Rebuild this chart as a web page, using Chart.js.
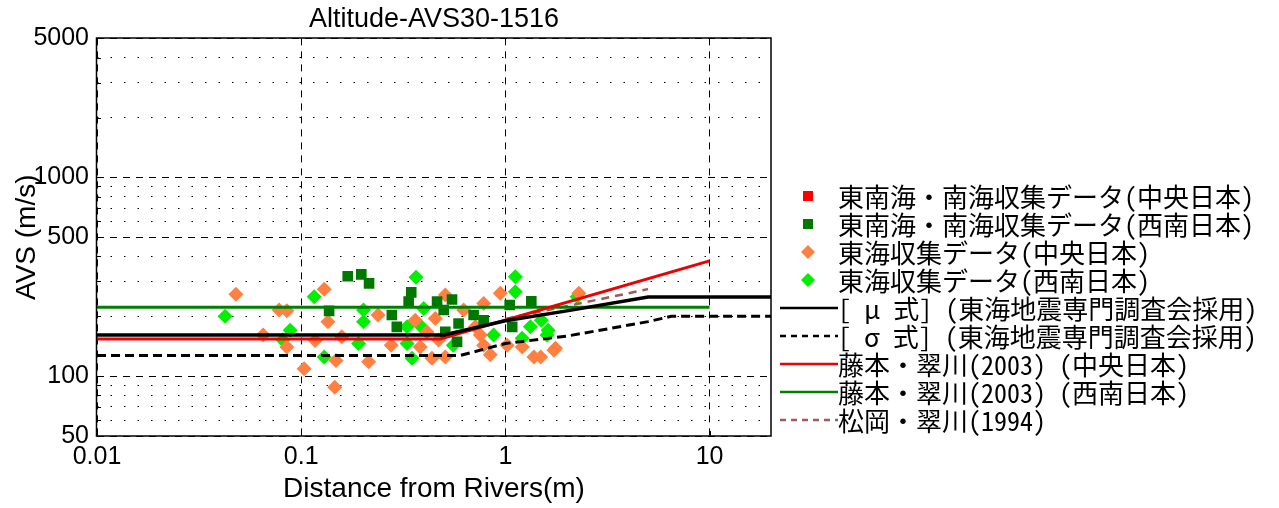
<!DOCTYPE html>
<html>
<head>
<meta charset="utf-8">
<script src="https://cdn.jsdelivr.net/npm/chart.js@4.4.1/dist/chart.umd.min.js"></script>
<style>
  html, body { margin: 0; padding: 0; background: #fff; }
  #wrap { width: 1279px; height: 508px; }
</style>
</head>
<body>
<div id="wrap"><canvas id="chart" width="1279" height="508"></canvas></div>
<script>
// ---- axis ticks ----
const xTickValues = [0.01, 0.1, 1, 10];
const xTickLabels = ['0.01', '0.1', '1', '10'];
const yTickValues = [50, 60, 70, 80, 90, 100, 200, 300, 400, 500, 600, 700, 800, 900, 1000, 2000, 3000, 4000, 5000];
const yTickLabels = ['50', '', '', '', '', '100', '', '', '', '500', '', '', '', '', '1000', '', '', '', '5000'];

// ---- series names ----
const seriesLabels = [
  '東南海・南海収集データ(中央日本)',
  '東南海・南海収集データ(西南日本)',
  '東海収集データ(中央日本)',
  '東海収集データ(西南日本)',
  '[ μ 式] (東海地震専門調査会採用)',
  '[ σ 式] (東海地震専門調査会採用)',
  '藤本・翠川(2003) (中央日本)',
  '藤本・翠川(2003) (西南日本)',
  '松岡・翠川(1994)'
];

// ---- observed data: [distance (m), AVS (m/s)] ----
const tonankaiCentral = [];
const tonankaiWest = [
  [0.137, 213], [0.169, 318], [0.197, 325], [0.215, 293], [0.278, 203], [0.294, 177],
  [0.336, 237], [0.346, 264], [0.463, 237], [0.499, 215], [0.508, 167], [0.548, 243],
  [0.580, 149], [0.590, 184], [0.699, 203], [0.783, 191], [1.05, 228], [1.08, 177], [1.34, 238]
];
const tokaiCentral = [
  [0.0479, 258], [0.0651, 161], [0.078, 215], [0.0851, 213], [0.0851, 140], [0.1034, 109],
  [0.117, 151], [0.1296, 274], [0.1352, 188], [0.146, 88], [0.148, 120], [0.158, 158],
  [0.214, 118], [0.238, 203], [0.276, 143], [0.362, 191], [0.383, 140], [0.413, 167],
  [0.437, 123], [0.454, 195], [0.471, 152], [0.508, 256], [0.508, 125], [0.625, 215],
  [0.713, 177], [0.754, 161], [0.783, 232], [0.783, 143], [0.844, 128], [0.945, 261],
  [1.02, 143], [1.21, 140], [1.38, 125], [1.49, 125], [1.73, 135], [1.76, 138], [2.29, 261]
];
const tokaiWest = [
  [0.0424, 200], [0.0813, 152], [0.0883, 170], [0.1158, 251], [0.1296, 125], [0.191, 146],
  [0.202, 215], [0.202, 188], [0.330, 177], [0.330, 146], [0.349, 123], [0.365, 314],
  [0.3875, 177], [0.398, 219], [0.556, 143], [0.876, 161], [1.119, 316], [1.119, 266],
  [1.208, 155], [1.326, 177], [1.50, 191], [1.60, 161], [1.62, 170], [2.246, 251]
];

// ---- relation curves: [distance (m), AVS (m/s)] ----
const muCurve = [[0.01, 161], [0.5, 161], [1, 190], [2, 213], [5, 250], [20, 250]];
const sigmaCurve = [[0.01, 127], [0.6, 127], [1, 146], [2, 159], [5, 188], [6.5, 200], [20, 200]];
const fujimotoCentral = [[0.01, 154], [0.48, 154], [10, 380]];
const fujimotoWest = [[0.01, 222], [10, 222]];
const matsuoka1994 = [[1, 194], [5, 274]];

const toPoints = arr => arr.map(([x, y]) => ({ x, y }));
const isLabeled = (values, labels, v) => values.indexOf(v) >= 0 && labels[values.indexOf(v)] !== '';

const FONT = '"Liberation Sans", Arial, sans-serif';
const JP_FONT = '"Noto Sans Mono CJK JP", "Noto Sans CJK JP", sans-serif';

const markerSet = (label, data, style, color) => ({
  type: 'scatter', label, data: toPoints(data), order: 1,
  pointStyle: style, pointRadius: 7.5, pointHoverRadius: 7.5,
  backgroundColor: color, borderColor: color, borderWidth: 0, showLine: false
});
const lineSet = (label, data, color, width, dash) => ({
  type: 'scatter', label, data: toPoints(data), order: 0,
  showLine: true, pointRadius: 0, borderColor: color, backgroundColor: color,
  borderWidth: width, borderDash: dash, fill: false, tension: 0
});

const datasets = [
  markerSet(seriesLabels[0], tonankaiCentral, 'rect', '#ff0000'),
  markerSet(seriesLabels[1], tonankaiWest, 'rect', '#007800'),
  markerSet(seriesLabels[2], tokaiCentral, 'rectRot', '#ff8040'),
  markerSet(seriesLabels[3], tokaiWest, 'rectRot', '#00f000'),
  lineSet(seriesLabels[4], muCurve, '#000000', 3.5, []),
  lineSet(seriesLabels[5], sigmaCurve, '#000000', 3, [9, 5]),
  lineSet(seriesLabels[6], fujimotoCentral, '#ee0000', 3, []),
  lineSet(seriesLabels[7], fujimotoWest, '#008000', 3, []),
  lineSet(seriesLabels[8], matsuoka1994, '#a05a5a', 2.5, [8, 6])
];

// frame, inner tick marks and the side legend
const framePlugin = {
  id: 'frameAndLegend',
  afterDraw(chart) {
    const { ctx, chartArea: a, scales } = chart;
    ctx.save();
    ctx.strokeStyle = '#000';
    ctx.lineWidth = 1;
    ctx.beginPath();
    yTickValues.forEach(v => {
      const y = Math.round(scales.y.getPixelForValue(v)) + 0.5;
      ctx.moveTo(a.left, y); ctx.lineTo(a.left + 4, y);
    });
    xTickValues.slice(1).forEach(v => {
      const x = Math.round(scales.x.getPixelForValue(v)) + 0.5;
      ctx.moveTo(x, a.bottom); ctx.lineTo(x, a.bottom - 5);
    });
    ctx.stroke();
    ctx.lineWidth = 1.5;
    ctx.strokeRect(Math.round(a.left) - 0.5, Math.round(a.top), Math.round(a.right - a.left) + 0.5, Math.round(a.bottom - a.top));

    // legend
    ctx.font = '26px ' + JP_FONT;
    ctx.textBaseline = 'middle';
    ctx.textAlign = 'left';
    chart.data.datasets.forEach((ds, i) => {
      const y = 196 + i * 28;
      if (ds.showLine) {
        ctx.beginPath();
        ctx.setLineDash(ds.borderDash && ds.borderDash.length ? [6, 5] : []);
        ctx.strokeStyle = ds.borderColor;
        ctx.lineWidth = 2.5;
        ctx.moveTo(780, y); ctx.lineTo(838, y);
        ctx.stroke();
        ctx.setLineDash([]);
      } else {
        ctx.fillStyle = ds.backgroundColor;
        ctx.beginPath();
        if (ds.pointStyle === 'rect') {
          ctx.rect(808 - 5, y - 5, 10, 10);
        } else {
          ctx.moveTo(808, y - 7); ctx.lineTo(815, y); ctx.lineTo(808, y + 7); ctx.lineTo(801, y);
          ctx.closePath();
        }
        ctx.fill();
      }
      ctx.fillStyle = '#000';
      ctx.fillText(ds.label, 838, y + 1);
    });
    ctx.restore();
  }
};

Chart.defaults.font.family = FONT;
Chart.defaults.color = '#000';

new Chart(document.getElementById('chart'), {
  type: 'scatter',
  data: { datasets },
  options: {
    responsive: false,
    devicePixelRatio: 1,
    animation: false,
    layout: { padding: { left: 0, right: 508, top: 0, bottom: 0 } },
    plugins: {
      legend: { display: false },
      tooltip: { enabled: false },
      title: {
        display: true, text: 'Altitude-AVS30-1516', fullSize: false,
        font: { size: 27, weight: 'normal', family: FONT }, color: '#000',
        padding: { top: 3, bottom: 3 }
      }
    },
    scales: {
      x: {
        type: 'logarithmic', position: 'bottom', min: 0.01, max: 20,
        afterBuildTicks: s => { s.ticks = xTickValues.map(v => ({ value: v })); },
        afterFit: s => { s.height = 72; },
        ticks: {
          autoSkip: false, maxRotation: 0, padding: 6,
          font: { size: 25 }, color: '#000',
          callback: v => xTickLabels[xTickValues.indexOf(v)] ?? ''
        },
        grid: { color: '#000', lineWidth: 1, drawTicks: false },
        border: { display: false, dash: c => (c.tick && isLabeled(xTickValues, xTickLabels, c.tick.value)) ? [7, 6] : [1.5, 12] },
        title: { display: true, text: 'Distance from Rivers(m)', font: { size: 28 }, color: '#000', padding: { top: 0, bottom: 2 } }
      },
      y: {
        type: 'logarithmic', position: 'left', min: 50, max: 5000,
        afterBuildTicks: s => { s.ticks = yTickValues.map(v => ({ value: v })); },
        afterFit: s => { s.width = 97; },
        ticks: {
          autoSkip: false, padding: 8,
          font: { size: 25 }, color: '#000',
          callback: v => yTickLabels[yTickValues.indexOf(v)] ?? ''
        },
        grid: { color: '#000', lineWidth: 1, drawTicks: false },
        border: { display: false, dash: c => (c.tick && isLabeled(yTickValues, yTickLabels, c.tick.value)) ? [7, 6] : [1.5, 12] },
        title: { display: true, text: 'AVS (m/s)', font: { size: 28 }, color: '#000', padding: { top: 10, bottom: 0 } }
      }
    }
  },
  plugins: [framePlugin]
});
</script>
</body>
</html>
